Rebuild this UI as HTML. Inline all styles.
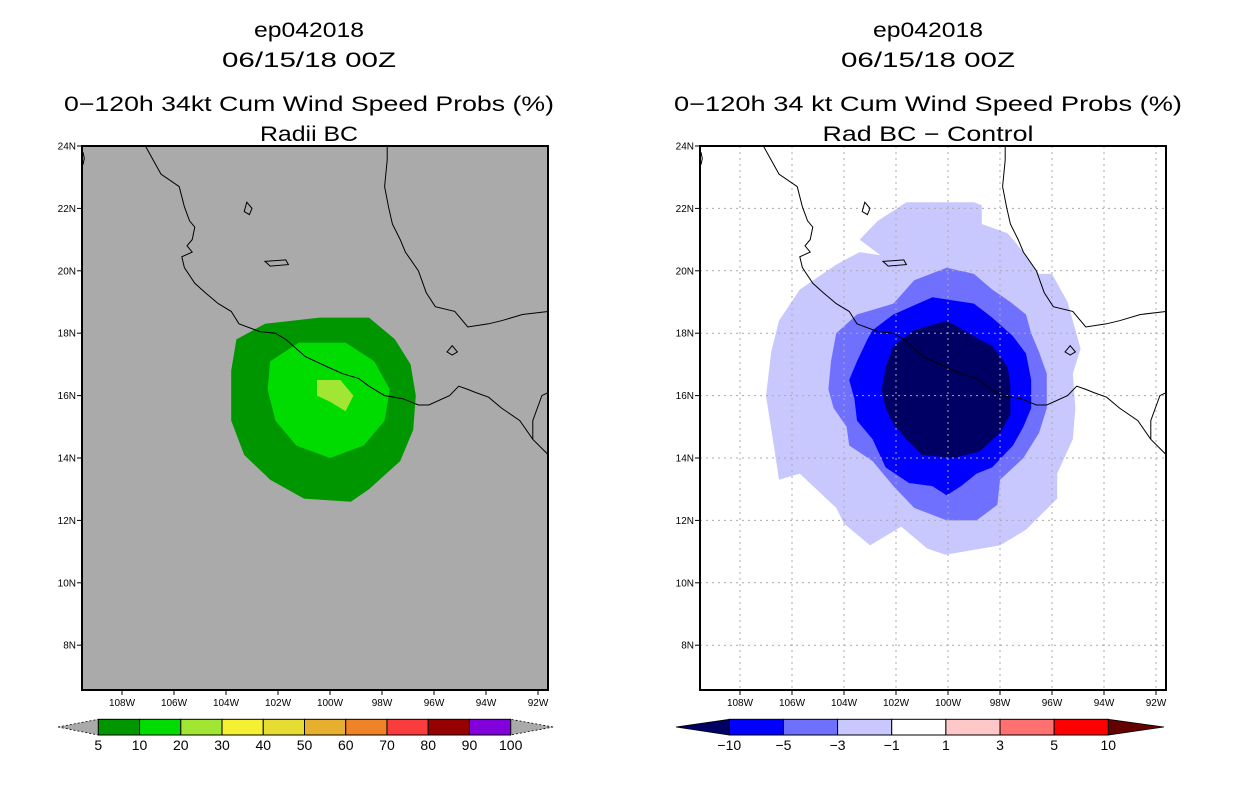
<!DOCTYPE html>
<html><head><meta charset="utf-8"><style>
html,body{margin:0;padding:0;background:#fff;}
svg{display:block;font-family:"Liberation Sans",sans-serif;}
</style></head><body>
<svg id="root" width="1236" height="800" viewBox="0 0 1236 800">
<g id="left"></g>
<g id="right"></g>
</svg>
<script>
// ---- data ----
const latTicks = [24,22,20,18,16,14,12,10,8];
const lonTicks = [108,106,104,102,100,98,96,94,92];
const leftLevels = ["5","10","20","30","40","50","60","70","80","90","100"];
const leftColors = ["#009600","#00dc00","#a0e632","#f5f032","#e6dc32","#e6af2d","#f08228","#fa3c3c","#960000","#8200dc"];
const rightLevels = ["-10","-5","-3","-1","1","3","5","10"];
const rightColors = ["#0000ff","#7070ff","#c8c8ff","#ffffff","#ffc8c8","#ff7070","#ff0000"];
const rightEnds = ["#000064","#640000"];
// contour polygons [lonW, latN]
const green5 = [[103.6,17.8],[102.5,18.3],[100.4,18.5],[98.5,18.5],[97.5,17.8],[96.9,17.0],[96.7,16.0],[96.8,14.9],[97.3,13.9],[98.5,13.0],[99.2,12.6],[101.0,12.7],[102.3,13.3],[103.3,14.1],[103.8,15.2],[103.8,16.8]];
const green10 = [[102.3,17.1],[101.2,17.7],[99.4,17.7],[98.3,17.1],[97.7,16.2],[97.9,15.2],[98.7,14.4],[100,14.0],[101.3,14.4],[102.1,15.2],[102.4,16.2]];
const green20 = [[100.5,16.5],[99.6,16.5],[99.1,16.0],[99.4,15.5],[100,15.8],[100.5,16.0]];
const diff1 = [[101.6,22.2],[99.0,22.2],[98.7,22.1],[98.7,21.5],[97.7,21.2],[97.1,20.6],[96.5,19.9],[96.0,19.9],[95.4,19.0],[94.9,17.5],[95.2,16.7],[95.1,15.6],[95.2,14.6],[95.8,13.5],[95.8,12.7],[97.0,11.7],[98.0,11.2],[100.1,10.9],[100.8,11.1],[101.8,11.8],[103.0,11.2],[104.0,11.9],[104.3,12.4],[105.7,13.5],[106.5,13.3],[106.7,14.4],[107.0,16.0],[106.8,17.4],[106.5,18.4],[105.7,19.4],[104.3,20.2],[103.4,20.6],[102.6,20.5],[103.4,21.0],[102.7,21.6]];
const diff3 = [[101.3,19.7],[100.05,20.1],[99.0,19.9],[98.3,19.4],[97.6,19.0],[97.0,18.6],[96.8,18.0],[96.5,17.4],[96.2,16.7],[96.2,15.6],[96.5,14.8],[97.1,14.0],[98.0,13.3],[98.1,12.5],[98.9,12.0],[100.05,12.0],[101.3,12.4],[102.1,13.1],[102.9,13.9],[103.8,14.4],[103.9,15.0],[104.4,15.6],[104.6,16.2],[104.5,17.1],[104.3,18.0],[103.5,18.6],[102.1,18.95]];
const diff5 = [[102.9,18.1],[102.1,18.6],[100.6,19.15],[99.0,18.95],[98.3,18.5],[97.5,17.9],[97.0,17.35],[96.8,16.5],[96.8,15.6],[97.1,15.0],[97.5,14.4],[98.3,13.7],[98.9,13.5],[99.5,13.1],[100.05,12.8],[100.6,13.1],[101.5,13.2],[102.4,13.7],[102.9,14.6],[103.5,15.2],[103.6,15.9],[103.8,16.5],[103.5,17.1],[103.1,17.8]];
const diff10 = [[102.1,17.6],[101.3,18.1],[100.05,18.4],[99.4,18.1],[98.8,17.8],[98.3,17.6],[97.7,16.9],[97.6,16.3],[97.6,15.4],[98.0,14.8],[98.8,14.2],[99.8,14.0],[101.0,14.1],[101.6,14.6],[102.1,15.1],[102.4,15.6],[102.55,16.2],[102.4,16.9]];
// coastlines
const pacificCoast = [[107.1,24.0],[106.5,23.1],[105.8,22.7],[105.6,22.05],[105.4,21.6],[105.2,21.4],[105.3,21.0],[105.5,20.8],[105.3,20.6],[105.7,20.45],[105.6,20.1],[105.2,19.6],[104.8,19.3],[104.3,18.95],[103.8,18.7],[103.5,18.3],[102.7,18.05],[102.1,18.0],[101.7,17.8],[100.95,17.25],[100.05,16.9],[99.5,16.7],[98.9,16.55],[98.5,16.3],[97.9,16.0],[97.2,15.9],[96.6,15.7],[96.2,15.7],[95.4,16.0],[95.05,16.3],[94.7,16.2],[94.4,16.1],[93.9,15.95],[93.4,15.6],[92.7,15.2],[92.2,14.6],[91.6,14.1]];
const gulfCoast = [[97.8,24.0],[97.8,23.55],[97.9,22.7],[97.75,22.05],[97.6,21.5],[97.3,21.0],[97.1,20.6],[96.6,20.0],[96.3,19.3],[95.95,18.85],[95.2,18.7],[94.7,18.2],[93.9,18.3],[93.4,18.4],[92.6,18.6],[91.6,18.7]];
const innerBorder = [[91.6,16.1],[91.85,16.0],[92.2,15.2],[92.2,14.6]];
const bajaTip = [[109.5,23.8],[109.45,23.6],[109.5,23.4]];
const islands = [[[103.2,22.2],[103.0,22.0],[103.1,21.8],[103.3,21.9]],[[102.5,20.3],[101.7,20.35],[101.6,20.2],[102.3,20.15]],[[95.5,17.4],[95.3,17.6],[95.1,17.4],[95.3,17.3]]];

const NS = "http://www.w3.org/2000/svg";
function mk(tag, attrs, parent){const e=document.createElementNS(NS,tag);for(const k in attrs)e.setAttribute(k,attrs[k]);parent.appendChild(e);return e;}
const Y0=146, PXLAT=31.2, PXLON=26, W=466, H=544;
function makeAxes(cx){return {x:lon=>cx-(lon-100)*PXLON, y:lat=>Y0+(24-lat)*PXLAT};}
function ptsStr(ax,arr){return arr.map(p=>ax.x(p[0]).toFixed(1)+","+ax.y(p[1]).toFixed(1)).join(" ");}

function titles(g,cx,l3,l4,len3,len4){
  const t=[["ep042018",37,110],["06/15/18 00Z",67,174],[l3,111,len3],[l4,141,len4]];
  const names=["storm-id-title","date-title","main-title","sub-title"];
  t.forEach((r,i)=>{const e=mk("text",{x:cx,y:r[1],"text-anchor":"middle","font-size":"21",textLength:r[2],lengthAdjust:"spacingAndGlyphs",fill:"#000"},g);e.textContent=r[0];
    
    });
}

function panel(id,x0,cx,bg,grid,fills,fillCols,clipId){
  const g=document.getElementById(id);
  const ax=makeAxes(cx);
  const cp=mk("clipPath",{id:clipId},g);mk("rect",{x:x0,y:Y0,width:W,height:H},cp);
  const map=mk("g",{"clip-path":"url(#"+clipId+")"},g);
  
  
  mk("rect",{x:x0,y:Y0,width:W,height:H,fill:bg},map);
  fills.forEach((poly,i)=>{const p=mk("polygon",{points:ptsStr(ax,poly),fill:fillCols[i]},map);
    
    });
  if(grid){
    lonTicks.forEach(l=>{const ln=mk("line",{x1:ax.x(l),x2:ax.x(l),y1:Y0,y2:Y0+H,stroke:"#aaa","stroke-dasharray":"2,4","stroke-width":1},map);
      
      });
    latTicks.forEach(l=>{const ln=mk("line",{x1:x0,x2:x0+W,y1:ax.y(l),y2:ax.y(l),stroke:"#aaa","stroke-dasharray":"2,4","stroke-width":1},map);
      
      });
  }
  [pacificCoast,gulfCoast,innerBorder,bajaTip].forEach(c=>{const pl=mk("polyline",{points:ptsStr(ax,c),fill:"none",stroke:"#000","stroke-width":1},map);
    
    });
  islands.forEach(c=>{const pl=mk("polygon",{points:ptsStr(ax,c),fill:"none",stroke:"#000","stroke-width":1},map);
    
    });
  const fr=mk("rect",{x:x0,y:Y0,width:W,height:H,fill:"none",stroke:"#000","stroke-width":2},g);
  
  
  latTicks.forEach(l=>{
    mk("line",{x1:x0-5,x2:x0,y1:ax.y(l),y2:ax.y(l),stroke:"#000"},g);
    const t=mk("text",{x:x0-6,y:ax.y(l)+3.5,"text-anchor":"end","font-size":"10",fill:"#000"},g);t.textContent=l+"N";
    
    
  });
  lonTicks.forEach(l=>{
    mk("line",{x1:ax.x(l),x2:ax.x(l),y1:Y0+H,y2:Y0+H+5,stroke:"#000"},g);
    const t=mk("text",{x:ax.x(l),y:706,"text-anchor":"middle","font-size":"10",fill:"#000"},g);t.textContent=l+"W";
    
    
  });
  return g;
}

// left panel
const gl=panel("left",82,330,"#aaaaaa",false,[green5,green10,green20],leftColors.slice(0,3),"clipL");
titles(gl,309,"0\u2212120h 34kt Cum Wind Speed Probs (%)","Radii BC",490,98);
// left colorbar
(function(){
  const x1=98.3,x2=510.7,y1=719.3,y2=735,n=leftColors.length,bw=(x2-x1)/n;
  const lt=mk("polygon",{points:`58,727 ${x1},${y1} ${x1},${y2}`,fill:"#aaaaaa",stroke:"#000","stroke-dasharray":"2,2","stroke-width":0.8},gl);
  
  
  const rt=mk("polygon",{points:`553,727 ${x2},${y1} ${x2},${y2}`,fill:"#aaaaaa",stroke:"#000","stroke-dasharray":"2,2","stroke-width":0.8},gl);
  
  
  leftColors.forEach((c,i)=>{const r=mk("rect",{x:x1+i*bw,y:y1,width:bw,height:y2-y1,fill:c,stroke:"#000","stroke-width":1},gl);
    
    });
  leftLevels.forEach((l,i)=>{const t=mk("text",{x:x1+i*bw,y:750,"text-anchor":"middle","font-size":"14",fill:"#000"},gl);t.textContent=l;
    
    });
})();

// right panel
const gr=panel("right",700,948,"#ffffff",true,[diff1,diff3,diff5,diff10],["#c8c8ff","#7070ff","#0000ff","#000064"],"clipR");
titles(gr,928,"0\u2212120h 34 kt Cum Wind Speed Probs (%)","Rad BC \u2212 Control",508,211);
(function(){
  const x1=729.3,x2=1108.3,y1=719.3,y2=735,n=rightColors.length,bw=(x2-x1)/n;
  const lt=mk("polygon",{points:`676,727 ${x1},${y1} ${x1},${y2}`,fill:rightEnds[0],stroke:"#000","stroke-width":0.8},gr);
  
  
  const rt=mk("polygon",{points:`1164,727 ${x2},${y1} ${x2},${y2}`,fill:rightEnds[1],stroke:"#000","stroke-width":0.8},gr);
  
  
  rightColors.forEach((c,i)=>{const r=mk("rect",{x:x1+i*bw,y:y1,width:bw,height:y2-y1,fill:c,stroke:"#000","stroke-width":1},gr);
    
    });
  rightLevels.forEach((l,i)=>{const t=mk("text",{x:x1+i*bw,y:750,"text-anchor":"middle","font-size":"14",fill:"#000"},gr);t.textContent=l.replace("-","\u2212");
    
    });
})();
</script>
</body></html>
